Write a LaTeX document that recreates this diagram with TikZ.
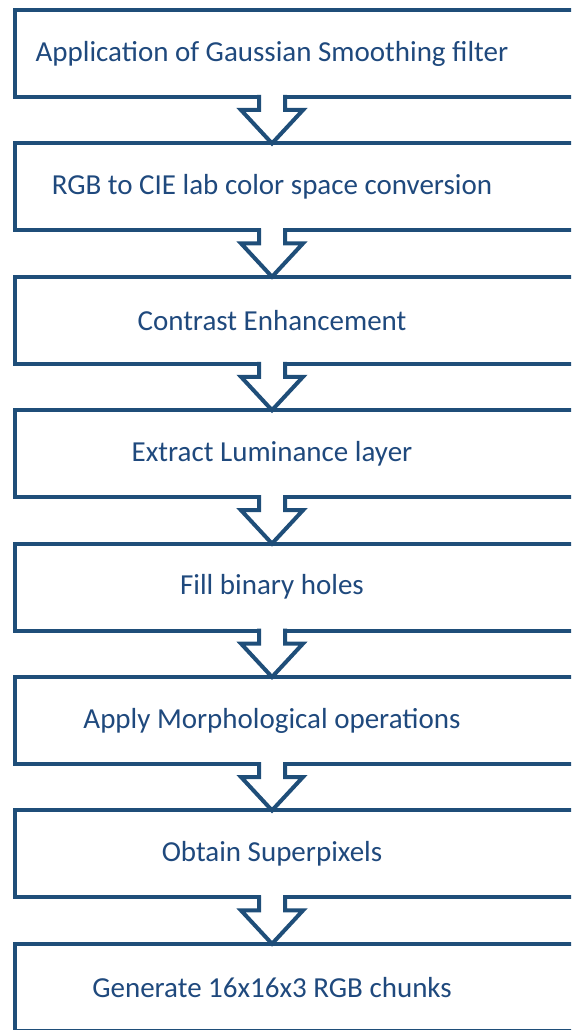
\documentclass[tikz,border=0pt]{standalone}
\usepackage{fontspec}
\setmainfont{Carlito}
\usetikzlibrary{calc}
\definecolor{flowblue}{RGB}{31,78,121}
\definecolor{flowtext}{RGB}{31,73,125}

\tikzset{
	stepbox/.style={draw=flowblue,line width=4pt,outer sep=0pt,inner sep=0pt,minimum width=600pt,minimum height=87pt},
	steptext/.style={text=flowtext,font=\fontsize{29}{34}\selectfont},
	blockarrow/.style={draw=flowblue,line width=4pt,line join=miter,line cap=rect}
}

\begin{document}
\begin{tikzpicture}[x=1pt,y=-1pt]
	\useasboundingbox (0,0) rectangle (571,1030);
	\clip (0,0) rectangle (571,1030);
	% boxes
	\node[stepbox] (s1) at (315,53.5) {};
	\node[stepbox] (s2) at (315,186.9) {};
	\node[stepbox] (s3) at (315,320.3) {};
	\node[stepbox] (s4) at (315,453.7) {};
	\node[stepbox] (s5) at (315,587.1) {};
	\node[stepbox] (s6) at (315,720.5) {};
	\node[stepbox] (s7) at (315,853.9) {};
	\node[stepbox] (s8) at (315,987.3) {};
	% labels
	\node[steptext] (t1) at (272,53.5) {Application of Gaussian Smoothing filter};
	\node[steptext] (t2) at (272,186.9) {RGB to CIE lab color space conversion};
	\node[steptext] (t3) at (272,320.3) {Contrast Enhancement};
	\node[steptext] (t4) at (272,453.7) {Extract Luminance layer};
	\node[steptext] (t5) at (272,587.1) {Fill binary holes};
	\node[steptext] (t6) at (272,720.5) {Apply Morphological operations};
	\node[steptext] (t7) at (272,853.9) {Obtain Superpixels};
	\node[steptext] (t8) at (272,987.3) {Generate 16x16x3 RGB chunks};
	% hollow arrows
	\foreach \a/\b in {1/2,2/3,3/4,4/5,5/6,6/7,7/8}{
		\fill[white] ($(t\a|-s\a.south)+(-11,-3)$) rectangle ($(t\a|-s\a.south)+(11,3)$);
		\draw[blockarrow] ($(t\a|-s\a.south)+(-13,0)$) -- ++(0,13) -- ++(-18,0)
			-- (t\b|-s\b.north) -- ($(t\a|-s\a.south)+(31,13)$) -- ++(-18,0) -- ++(0,-13);
	}
\end{tikzpicture}
\end{document}
